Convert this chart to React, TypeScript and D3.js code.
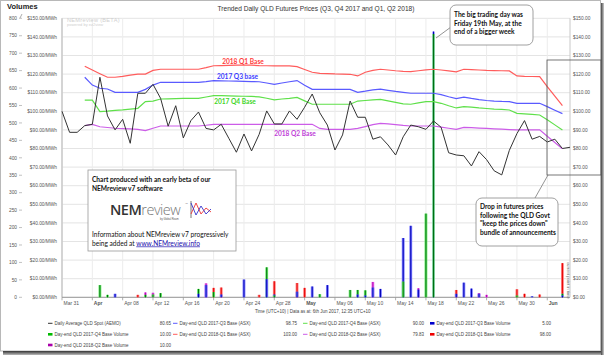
import React from 'react';
import * as d3 from 'd3';

const START = Date.UTC(2017, 2, 31);
const DAY = 86400000;
const FUT_START = 3;

const tickLabels = ["Mar 31","Apr","Apr 08","Apr 12","Apr 16","Apr 20","Apr 24","Apr 28","May","May 06","May 10","May 14","May 18","May 22","May 26","May 30","Jun"];
const priceTicks = [0,10,20,30,40,50,60,70,80,90,100,110,120,130,140,150];
const volTicks = [0,50,100,150,200,250,300,350,400,450,500,550,600,650,700,750,800];

const spot = [100,88.7,88.7,92.3,93,118.3,97.5,90,95.7,82.8,109.7,109.7,114.5,107,92,103,85.7,95,99.6,90.8,90,93,85.5,78,87.8,78.7,87.6,100.2,93.2,93.2,100.2,95.7,102.2,109.3,99.2,92.6,79.2,87.3,105.5,96.8,96.8,85,86.3,81.9,76.5,86.3,92.6,91.7,90.3,94.8,91.4,77.7,76.5,76.1,70.6,78.3,74,68,65.8,79,88,95,85,86.5,83.5,85,80,80.65];

const q1Base = [124.2,122.2,120.2,118.3,118.3,118.8,119.4,120,120,122,122.6,122.6,122.6,122.6,122.6,122.6,123.5,124.5,124.6,124.7,124.8,124.9,124.8,124.6,124.5,124.4,124.4,124.4,124,122.5,121,120.4,120.3,120.1,120,119.9,119,121,122,122.6,122.2,121.8,121.5,121.3,121.8,122.3,122.6,122.2,121.7,121.2,122.6,122.4,122.2,122,121.9,121.8,121.7,119,118.8,118.7,118.6,113.3,108.1,103];
const q3Base = [118.3,114.1,112.4,112,110.2,110.2,110.2,110.2,111.8,114.1,115.6,115.6,115.6,115.6,115.6,115.6,116,116.5,116.4,116.3,116.2,116.1,116,115.9,115.2,114.5,115.2,115.9,116.5,114,111.8,111.8,111.8,111.8,111.8,111.8,110.2,110.8,111.5,111.9,111.3,110.7,110.2,109.7,109.7,109.7,109.7,109,107.8,106.8,107.6,106.9,106.3,105.8,105.5,105.3,105.2,104.3,104.3,104.3,104.3,102.5,100.6,98.75];
const q4Base = [106,106,99.8,100.1,100.5,100.8,101.2,101.6,105.2,105.5,106.6,106.7,106.8,106.9,107,107,107.7,108.4,108.4,108.3,108.2,108.1,108,107.8,107,106.1,106.6,107,107.5,105.6,103.8,103.8,103.8,103.8,103.8,103.8,105.5,105.8,106.1,106.4,105.6,104.8,104,103.8,104.5,105.2,105.2,104.3,103,101.8,102.5,102.2,101.8,101.5,101.2,101,100.7,98.9,98.6,98.3,98,95.5,92.7,90];
const q2Base = [92.3,93,91.7,91.3,90.9,90.7,90.5,90.3,89.6,90.9,92.1,92.1,92.1,92.1,92.1,92.1,92.5,93,93,93,93,93,93,93,93,93,93,93,93,93,93,90.8,90.3,90.3,90.3,90.3,90.8,91.8,92.8,93.5,93.2,92.8,92.4,92.1,92.1,92.1,92.1,91.5,90.9,90.3,91.4,91.2,91,90.8,90.6,90.4,90.2,90,90,90,90,86.6,83.2,79.83];

// [day index from Mar 31, volume]
const volQ1: [number, number][] = [[10,7],[20,27],[21,28],[26,7],[28,46],[31,41],[32,27],[52,21],[60,23],[61,10],[63,8],[66,98]];
const volQ2: [number, number][] = [[11,14],[12,13],[19,40],[41,44],[47,26],[55,12],[56,7],[66,10]];
const volQ4: [number, number][] = [[5,35],[6,7],[11,7],[12,8],[13,12],[18,24],[20,15],[27,86],[28,5],[34,9],[38,21],[39,21],[40,20],[45,45],[48,240],[49,755],[60,5],[66,10]];
const volQ3: [number, number][] = [[7,10],[18,10],[19,35],[21,8],[24,51],[27,52],[28,8],[31,16],[33,31],[35,35],[39,8],[40,5],[41,28],[42,24],[45,170],[46,205],[47,22],[49,762],[52,10],[53,42],[54,25],[55,10],[62,3],[66,5]];

const C = {
  q1: '#ff5c5c', q3: '#5a5aff', q4: '#5fe04a', q2: '#cc5ce8', spot: '#333333',
};
const VOLC = {
  q1: { light: '#ff7a7a', dark: '#e60000' },
  q2: { light: '#ee70ee', dark: '#b000b0' },
  q4: { light: '#66ee66', dark: '#006a10' },
  q3: { light: '#7878ff', dark: '#0000b4' },
};

const W = 604, H = 356;
const L = 62, R = 570, T = 18.3, B = 297.3;
const FONT = '"Liberation Sans", Arial, sans-serif';
const CAL = 'Lato, "Open Sans", sans-serif';

const dayDate = (i: number) => new Date(START + i * DAY);

export default function App() {
  const x = d3.scaleUtc().domain([dayDate(0), dayDate(67)]).range([L, R]);
  const yP = d3.scaleLinear().domain([0, 150]).range([B, T]);
  const yV = d3.scaleLinear().domain([0, 800]).range([B, T]);
  const mk = (vals: number[], off: number) =>
    d3.line<number>().x((_, i) => x(dayDate(i + off))).y(v => yP(v))(vals) || '';
  const ticks = d3.range(0, 65, 4).map(dayDate);

  const allBars: { d: number; v: number; k: keyof typeof VOLC }[] = [];
  ([['q1', volQ1], ['q2', volQ2], ['q4', volQ4], ['q3', volQ3]] as [keyof typeof VOLC, [number, number][]][]).forEach(([k, arr]) =>
    arr.forEach(([d, v]) => allBars.push({ d, v, k })));
  allBars.sort((a, b) => b.v - a.v);

  const legendRows: { col: number; row: number; type: 'line' | 'sq'; color: string; label: string; val: string }[] = [
    { col: 0, row: 0, type: 'line', color: C.spot, label: 'Daily Average QLD Spot (AEMO)', val: '80.65' },
    { col: 1, row: 0, type: 'line', color: C.q3, label: 'Day-end QLD 2017-Q3 Base (ASX)', val: '98.75' },
    { col: 2, row: 0, type: 'line', color: C.q4, label: 'Day-end QLD 2017-Q4 Base (ASX)', val: '90.00' },
    { col: 3, row: 0, type: 'sq', color: '#0000cc', label: 'Day-end QLD 2017-Q3 Base Volume', val: '5.00' },
    { col: 0, row: 1, type: 'sq', color: '#00bb00', label: 'Day-end QLD 2017-Q4 Base Volume', val: '10.00' },
    { col: 1, row: 1, type: 'line', color: C.q1, label: 'Day-end QLD 2018-Q1 Base (ASX)', val: '103.00' },
    { col: 2, row: 1, type: 'line', color: C.q2, label: 'Day-end QLD 2018-Q2 Base (ASX)', val: '79.83' },
    { col: 3, row: 1, type: 'sq', color: '#ee0000', label: 'Day-end QLD 2018-Q1 Base Volume', val: '98.00' },
    { col: 0, row: 2, type: 'sq', color: '#aa00aa', label: 'Day-end QLD 2018-Q2 Base Volume', val: '10.00' },
  ];
  const colX = [48, 173, 303, 430];
  const valX = [171, 297, 424, 551];
  const rowY = [323.3, 334.3, 345];

  return (
    <div style={{ position: 'absolute', left: 0, top: 0 }}>
      <svg width={W} height={H} style={{ display: 'block', background: '#fff' }} fontFamily={FONT}>
        <defs>
          <linearGradient id="shB" x1="0" y1="0" x2="0" y2="1">
            <stop offset="0" stopColor="#333" />
            <stop offset="1" stopColor="#bbb" />
          </linearGradient>
          <linearGradient id="shR" x1="0" y1="0" x2="1" y2="0">
            <stop offset="0" stopColor="#444" />
            <stop offset="1" stopColor="#ccc" />
          </linearGradient>
        </defs>
        <rect x={0.5} y={0.5} width={600} height={350.5} fill="#fff" stroke="#b8b8b8" />
        <rect x={3} y={351} width={601} height={4} fill="url(#shB)" />
        <rect x={601} y={3} width={3} height={352} fill="url(#shR)" />

        {priceTicks.map(t => (
          <line key={'h' + t} x1={L} x2={R} y1={yP(t)} y2={yP(t)} stroke="#e4e4e4" strokeWidth={1} />
        ))}
        {ticks.map((t, i) => (
          <line key={'v' + i} x1={x(t)} x2={x(t)} y1={T} y2={B} stroke="#ececec" strokeWidth={1} />
        ))}
        <line x1={L} x2={L} y1={T} y2={B} stroke="#c8c8c8" strokeWidth={1.5} />
        <line x1={R} x2={R} y1={T} y2={B} stroke="#c8c8c8" strokeWidth={1} />
        <line x1={L} x2={R} y1={B} y2={B} stroke="#999" strokeWidth={1} />
        {ticks.map((t, i) => (
          <line key={'tk' + i} x1={x(t)} x2={x(t)} y1={B} y2={B + 3} stroke="#999" strokeWidth={0.8} />
        ))}

        <text x={67} y={21.5} fontSize={5.6} fill="#d0d0d0" letterSpacing={0.3}>NEMreview (BETA)</text>
        <text x={67} y={26} fontSize={4} fill="#d0d0d0">powered by ez2view</text>

        <text x={7} y={9} fontSize={7.5} fontWeight="bold" fill="#222">Volumes</text>
        <line x1={20} y1={18} x2={22} y2={14} stroke="#777" strokeWidth={0.6} />
        {volTicks.map(t => (
          <g key={'vt' + t}>
            <text x={17} y={yV(t) + 1.7} fontSize={4.8} textAnchor="end" fill="#555">{t}</text>
            <line x1={19} x2={22} y1={yV(t)} y2={yV(t)} stroke="#999" strokeWidth={0.6} />
          </g>
        ))}
        {priceTicks.map(t => (
          <text key={'pl' + t} x={57} y={yP(t) + 1.7} fontSize={4.8} textAnchor="end" fill="#555">{`$${t.toFixed(2)}/MWh`}</text>
        ))}
        {priceTicks.map(t => (
          <text key={'pr' + t} x={573} y={yP(t) + 1.7} fontSize={4.8} fill="#555">{`$${t.toFixed(2)}`}</text>
        ))}

        {ticks.map((t, i) => {
          const lab = tickLabels[i];
          const bold = !/\d/.test(lab);
          return (
            <text key={'xl' + i} x={x(t) + 1.5} y={304.5} fontSize={5} fontWeight={bold ? 'bold' : 'normal'} fill="#555">{lab}</text>
          );
        })}

        {allBars.map((b, i) => {
          const cx = x(dayDate(b.d));
          const y0 = yV(b.v);
          const big = b.v > 500;
          return (
            <g key={'b' + i}>
              <rect x={cx - (big ? 1.1 : 1.4)} y={y0} width={big ? 2.2 : 2.8} height={B - y0} fill={VOLC[b.k].light} />
              <rect x={cx - 0.5} y={y0} width={1} height={B - y0} fill={VOLC[b.k].dark} />
            </g>
          );
        })}

        <path d={mk(q1Base, FUT_START)} fill="none" stroke={C.q1} strokeWidth={1.2} />
        <path d={mk(q3Base, FUT_START)} fill="none" stroke={C.q3} strokeWidth={1.2} />
        <path d={mk(q4Base, FUT_START)} fill="none" stroke={C.q4} strokeWidth={1.2} />
        <path d={mk(q2Base, FUT_START)} fill="none" stroke={C.q2} strokeWidth={1.2} />
        <path d={mk(spot, 0)} fill="none" stroke={C.spot} strokeWidth={1} />

        <g fontFamily={CAL} fontWeight="bold" fontSize={6.6}>
          <text x={243} y={63.5} textAnchor="middle" fill="#ff3b3b">2018 Q1 Base</text>
          <text x={237.5} y={78.5} textAnchor="middle" fill="#3b3bff">2017 Q3 base</text>
          <text x={235} y={103.5} textAnchor="middle" fill="#3fd62a">2017 Q4 Base</text>
          <text x={295} y={135.5} textAnchor="middle" fill="#c040d8">2018 Q2 Base</text>
        </g>

        <text x={316} y={10.5} fontSize={6.6} textAnchor="middle" fill="#333">Trended Daily QLD Futures Prices (Q3, Q4 2017 and Q1, Q2 2018)</text>

        <text transform="translate(566.5,262) rotate(90)" fontSize={4.2} fill="#666">current point in time</text>

        <rect x={547} y={60} width={54} height={115} fill="none" stroke="#555" strokeWidth={0.8} />
        <line x1={451} y1={27} x2={436} y2={38} stroke="#666" strokeWidth={0.7} />
        <rect x={450} y={5} width={83} height={40} rx={6} fill="#fff" stroke="#888" strokeWidth={0.8} />
        <g fontFamily={CAL} fontWeight="bold" fontSize={6.6} fill="#111">
          <text x={454} y={17}>The big trading day was</text>
          <text x={454} y={25.5}>Friday 19th May, at the</text>
          <text x={454} y={34}>end of a bigger week</text>
        </g>
        <line x1={535} y1={198} x2={548} y2={175} stroke="#666" strokeWidth={0.7} />
        <rect x={476} y={198} width={82} height={48} rx={6} fill="#fff" stroke="#888" strokeWidth={0.8} />
        <g fontFamily={CAL} fontWeight="bold" fontSize={6.6} fill="#111">
          <text x={480} y={209}>Drop in futures prices</text>
          <text x={480} y={217.5}>following the QLD Govt</text>
          <text x={480} y={226}>"keep the prices down"</text>
          <text x={480} y={234.5}>bundle of announcements</text>
        </g>

        <rect x={88} y={170} width={148} height={81} fill="#fff" stroke="#999" strokeWidth={0.8} />
        <g fontFamily={CAL} fontSize={6.6} fill="#111">
          <text x={92} y={182} fontWeight="bold">Chart produced with an early beta of our</text>
          <text x={92} y={190.5} fontWeight="bold">NEMreview v7 software</text>
          <text x={92} y={237}>Information about NEMreview v7 progressively</text>
          <text x={92} y={245.5}>being added at <tspan fill="#1a0dab" textDecoration="underline">www.NEMreview.info</tspan></text>
        </g>
        <text x={110} y={215} fontFamily='"Open Sans", sans-serif' fontSize={14.5} letterSpacing={-0.5}>
          <tspan fill="#333" fontWeight="600">NEM</tspan><tspan fill="#777" fontWeight="300">review</tspan>
        </text>
        <text x={185} y={205} fontSize={3} fill="#777">™</text>
        <text x={160} y={220} fontSize={2.6} fill="#555">by Global Roam</text>
        <line x1={191} y1={201} x2={191} y2={218} stroke="#555" strokeWidth={0.8} />
        <polyline points="191,214 196,203 201,214 206,208 211,212" fill="none" stroke="#e33" strokeWidth={0.9} />
        <polyline points="191,203 196,215 201,206 206,214 211,209" fill="none" stroke="#33c" strokeWidth={0.9} />

        <text x={255} y={312.5} fontSize={4.5} fill="#444">Time (UTC+10) | Data as at: 6th Jun 2017, 12:35 UTC+10</text>

        {legendRows.map((r, i) => {
          const lx = colX[r.col];
          const ly = rowY[r.row];
          return (
            <g key={'lg' + i} fontSize={4.5} fill="#444">
              {r.type === 'line'
                ? <line x1={lx} x2={lx + 4.5} y1={ly} y2={ly} stroke={r.color} strokeWidth={1} />
                : <rect x={lx} y={ly - 1.3} width={4.5} height={2.6} fill={r.color} />}
              <text x={lx + 6.5} y={ly + 1.5}>{r.label}</text>
              <text x={valX[r.col]} y={ly + 1.5} textAnchor="end">{r.val}</text>
            </g>
          );
        })}
      </svg>
    </div>
  );
}
